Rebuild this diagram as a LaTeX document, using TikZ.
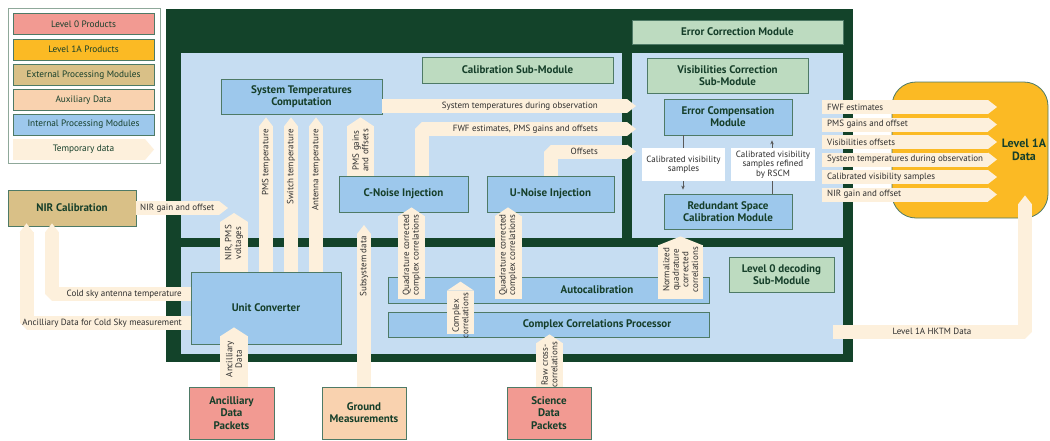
\documentclass[tikz,border=0pt]{standalone}
\usepackage{fontspec}
\setmainfont{PT Sans}
\usetikzlibrary{arrows.meta}
\definecolor{dkgreen}{HTML}{13432A}
\definecolor{panelc}{HTML}{C6DDF2}
\definecolor{internal}{HTML}{9DC8EC}
\definecolor{lgreen}{HTML}{BDDBC0}
\definecolor{salmon}{HTML}{F29A92}
\definecolor{gold}{HTML}{FBBA24}
\definecolor{tanc}{HTML}{D9C087}
\definecolor{peach}{HTML}{F9D2AF}
\definecolor{cream}{HTML}{FDF0DC}
\definecolor{bordc}{HTML}{4E7A66}
\definecolor{tgreen}{HTML}{163F2A}
\definecolor{tgray}{HTML}{2E2E2E}
\definecolor{legbord}{HTML}{8FA89A}
\begin{document}
\begin{tikzpicture}[x=1pt,y=-1pt,
  box/.style={draw=bordc, line width=0.8pt, font=\bfseries\fontsize{11}{12.2}\selectfont, text=tgreen, align=center, inner sep=0pt},
  intbox/.style={box, fill=internal},
  grbox/.style={box, fill=lgreen},
  pnl/.style={inner sep=0pt, anchor=north west},
  fat/.style={draw=cream, line width=#1, line join=bevel, -{Triangle[length=9pt, width=#1, line width=0pt]}},
  fat/.default=14pt,
  lbl/.style={font=\fontsize{9}{9.6}\selectfont, text=tgray, inner sep=0pt, align=center},
  vlbl/.style={lbl, rotate=90},
  wbox/.style={fill=white, inner sep=0pt, align=center, font=\fontsize{9}{9.6}\selectfont, text=tgray},
  leg/.style={draw=bordc, line width=0.8pt, minimum width=141, minimum height=21, inner sep=0pt, font=\fontsize{9.3}{10}\selectfont, text=tgreen},
  thinarr/.style={draw=black!65, line width=0.6pt, -{Stealth[length=4pt, width=3.5pt]}},
  boxtext/.style={font=\bfseries\fontsize{11}{12.2}\selectfont, text=tgreen, inner sep=0pt, align=center}
]
\useasboundingbox (0,0) rectangle (1050,440);

% legend
\node[draw=legbord, fill=white, line width=0.8pt, minimum width=152, minimum height=155, pnl] (legend) at (8,8) {};
\node[leg, fill=salmon] (lg0) at (83.5,24) {Level 0 Products};
\node[leg, fill=gold] (lg1) at (83.5,49.5) {Level 1A Products};
\node[leg, fill=tanc] (lg2) at (83.5,75) {External Processing Modules};
\node[leg, fill=peach] (lg3) at (83.5,100) {Auxiliary Data};
\node[leg, fill=internal] (lg4) at (83.5,124.5) {Internal Processing Modules};
\coordinate (tdA) at (13,149.5);
\coordinate (tdB) at (154,149.5);
\draw[fat=21pt] (tdA) -- (tdB);
\node[leg, draw=none] (lg5) at (83.5,149.5) {Temporary data};

% frame and panels
\node[fill=dkgreen, minimum width=687, minimum height=353, pnl] (frame) at (166,9) {};
\node[fill=panelc, minimum width=441, minimum height=185, pnl] (calpanel) at (181,53) {};
\node[fill=panelc, minimum width=211, minimum height=185, pnl] (ecpanel) at (632,53) {};
\node[fill=panelc, minimum width=662, minimum height=107, pnl] (lowpanel) at (181,247) {};
\node[grbox, minimum width=211, minimum height=24] (ecmod) at (737.5,32) {Error Correction Module};

% boxes
\node[grbox, minimum width=191, minimum height=26] (calsub) at (517.5,70) {Calibration Sub-Module};
\node[intbox, minimum width=161, minimum height=35] (stc) at (301.5,96.5) {System Temperatures\\Computation};
\node[grbox, minimum width=161, minimum height=35] (viscor) at (727.5,75.5) {Visibilities Correction\\Sub-Module};
\node[intbox, minimum width=128, minimum height=36] (ecm) at (728,117) {Error Compensation\\Module};
\node[intbox, minimum width=128, minimum height=35] (rscm) at (728,211.5) {Redundant Space\\Calibration Module};
\node[intbox, minimum width=129, minimum height=36] (cnoise) at (403.5,194) {C-Noise Injection};
\node[intbox, minimum width=127, minimum height=36] (unoise) at (550.5,194) {U-Noise Injection};
\node[intbox, minimum width=321, minimum height=26] (autocal) at (548.5,290) {};
\node[intbox, minimum width=321, minimum height=25] (ccp) at (548.5,324.5) {};
\node[intbox, minimum width=150, minimum height=72] (uc) at (266,308) {Unit Converter};
\node[grbox, minimum width=105, minimum height=35] (l0dec) at (781.5,274.5) {Level 0 decoding\\Sub-Module};
\node[box, fill=tanc, minimum width=128, minimum height=36] (nir) at (72,208) {NIR Calibration};
\node[box, fill=gold, rounded corners=24pt, minimum width=156, minimum height=136] (l1a) at (970,150) {};
\node[box, fill=salmon, minimum width=85, minimum height=52] (adp) at (231.5,413) {Ancilliary\\Data\\Packets};
\node[box, fill=peach, minimum width=84, minimum height=52] (gm) at (364,413) {Ground\\Measurements};
\node[box, fill=salmon, minimum width=84, minimum height=52] (sdp) at (549,413) {Science\\Data\\Packets};

% thin arrows and white labels
\draw[thinarr, shorten >=4pt] (ecm.south -| 683,0) -- (rscm.north -| 683,0);
\draw[thinarr, shorten >=5pt] (rscm.north -| 772,0) -- (ecm.south -| 772,0);
\node[wbox, minimum width=83, minimum height=33] (wl1) at (683.5,164.5) {Calibrated visibility\\samples};
\node[wbox, minimum width=84, minimum height=33] (wl2) at (773,164.5) {Calibrated visibility\\samples refined\\by RSCM};

% fat arrows
\coordinate (sysE) at (636,106);
\coordinate (fwfE) at (636,129);
\coordinate (offE) at (636,151.5);
\coordinate (nirE) at (228,208);
\coordinate (voltE) at (234,213);
\coordinate (subE) at (364,225);
\coordinate (oS) at (822,0);
\coordinate (oE) at (997,0);
\coordinate (hkS) at (833,331.5);

\draw[fat] (stc.east |- 0,106) -- (sysE);
\draw[fat] (cnoise.north -| 422,0) |- (fwfE);
\draw[fat] (unoise.north -| 550.5,0) |- (offE);
\draw[fat] (uc.north -| 266,0) -- ([yshift=-3pt]stc.south -| 266,0);
\draw[fat] (uc.north -| 291,0) -- ([yshift=-3pt]stc.south -| 291,0);
\draw[fat] (uc.north -| 316,0) -- ([yshift=-3pt]stc.south -| 316,0);
\draw[fat=27pt] (cnoise.north -| 360.5,0) -- ([yshift=-3pt]stc.south -| 360.5,0);
\draw[fat=28pt] (uc.north -| 234,0) -- (voltE);
\draw[fat] (nir.east) -- (nirE);
\draw[fat] (uc.west |- 0,294) -| ([yshift=3pt]nir.south -| 52,0);
\draw[fat] (uc.west |- 0,323) -| ([yshift=3pt]nir.south -| 26.5,0);
\draw[fat] (gm.north -| 364,0) -- (subE);
\draw[fat=27pt] ([yshift=4pt]autocal.south -| 411.5,0) -- ([yshift=5pt]cnoise.south -| 411.5,0);
\draw[fat=27pt] ([yshift=4pt]autocal.south -| 508,0) -- ([yshift=5pt]unoise.south -| 508,0);
\draw[fat=27pt] ([yshift=3pt]ccp.south -| 460.5,0) -- ([yshift=-5pt]autocal.north -| 460.5,0);
\draw[fat=27pt] (sdp.north -| 549.5,0) -- ([yshift=3pt]ccp.south -| 549.5,0);
\draw[fat=28pt] (adp.north -| 234,0) -- ([yshift=17pt]uc.south -| 234,0);
\draw[fat=45pt] ([yshift=4pt]autocal.south -| 680.5,0) -- ([yshift=2pt]ecpanel.south -| 680.5,0);
\draw[fat] (oS |- 0,107) -- (oE |- 0,107);
\draw[fat] (oS |- 0,124.5) -- (oE |- 0,124.5);
\draw[fat] (oS |- 0,142) -- (oE |- 0,142);
\draw[fat] (oS |- 0,159.5) -- (oE |- 0,159.5);
\draw[fat] (oS |- 0,177) -- (oE |- 0,177);
\draw[fat] (oS |- 0,194.5) -- (oE |- 0,194.5);
\draw[fat] (hkS) -| ([yshift=23pt]l1a.south -| 1025,0);

% texts on boxes
\node[boxtext] (tauto) at (597,290) {Autocalibration};
\node[boxtext] (tccp) at (597,324.5) {Complex Correlations Processor};
\node[boxtext, font=\bfseries\fontsize{12}{13}\selectfont] (tl1a) at (1024,150) {Level 1A\\Data};

% labels
\node[lbl, anchor=east] (t1) at (598,106) {System temperatures during observation};
\node[lbl, anchor=east] (t2) at (598,129) {FWF estimates, PMS gains and offsets};
\node[lbl, anchor=east] (t3) at (598,151.5) {Offsets};
\node[vlbl, anchor=east] (t4) at (266,129) {PMS temperature};
\node[vlbl, anchor=east] (t5) at (291,129) {Switch temperature};
\node[vlbl, anchor=east] (t6) at (316,129) {Antenna temperature};
\node[vlbl, anchor=east] (t7) at (360.5,129) {PMS gains\\and offsets};
\node[vlbl, anchor=east] (t8) at (234,225) {NIR, PMS\\voltages};
\node[lbl, anchor=west] (t9) at (140,208) {NIR gain and offset};
\node[lbl, anchor=east] (t10) at (182,294) {Cold sky antenna temperature};
\node[lbl, anchor=east] (t11) at (182,323) {Ancilliary Data for Cold Sky measurement};
\node[vlbl, anchor=east] (t12) at (364,236) {Subsystem data};
\node[vlbl, anchor=east] (t13) at (411.5,214) {Quadrature corrected\\complex correlations};
\node[vlbl, anchor=east] (t14) at (508,214) {Quadrature corrected\\complex correlations};
\node[vlbl, anchor=east] (t15) at (460.5,293) {Complex\\correlations};
\node[vlbl, anchor=east] (t16) at (680.5,247) {Normalized\\quadrature\\corrected\\correlations};
\node[vlbl, anchor=east] (t17) at (549.5,342) {Raw cross-\\correlations};
\node[vlbl, anchor=east] (t18) at (234,341) {Ancilliary\\Data};
\node[lbl, anchor=west] (o1) at (827,107) {FWF estimates};
\node[lbl, anchor=west] (o2) at (827,124.5) {PMS gains and offset};
\node[lbl, anchor=west] (o3) at (827,142) {Visibilities offsets};
\node[lbl, anchor=west] (o4) at (827,159.5) {System temperatures during observation};
\node[lbl, anchor=west] (o5) at (827,177) {Calibrated visibility samples};
\node[lbl, anchor=west] (o6) at (827,194.5) {NIR gain and offset};
\node[lbl] (t19) at (932,331.5) {Level 1A HKTM Data};
\end{tikzpicture}
\end{document}
